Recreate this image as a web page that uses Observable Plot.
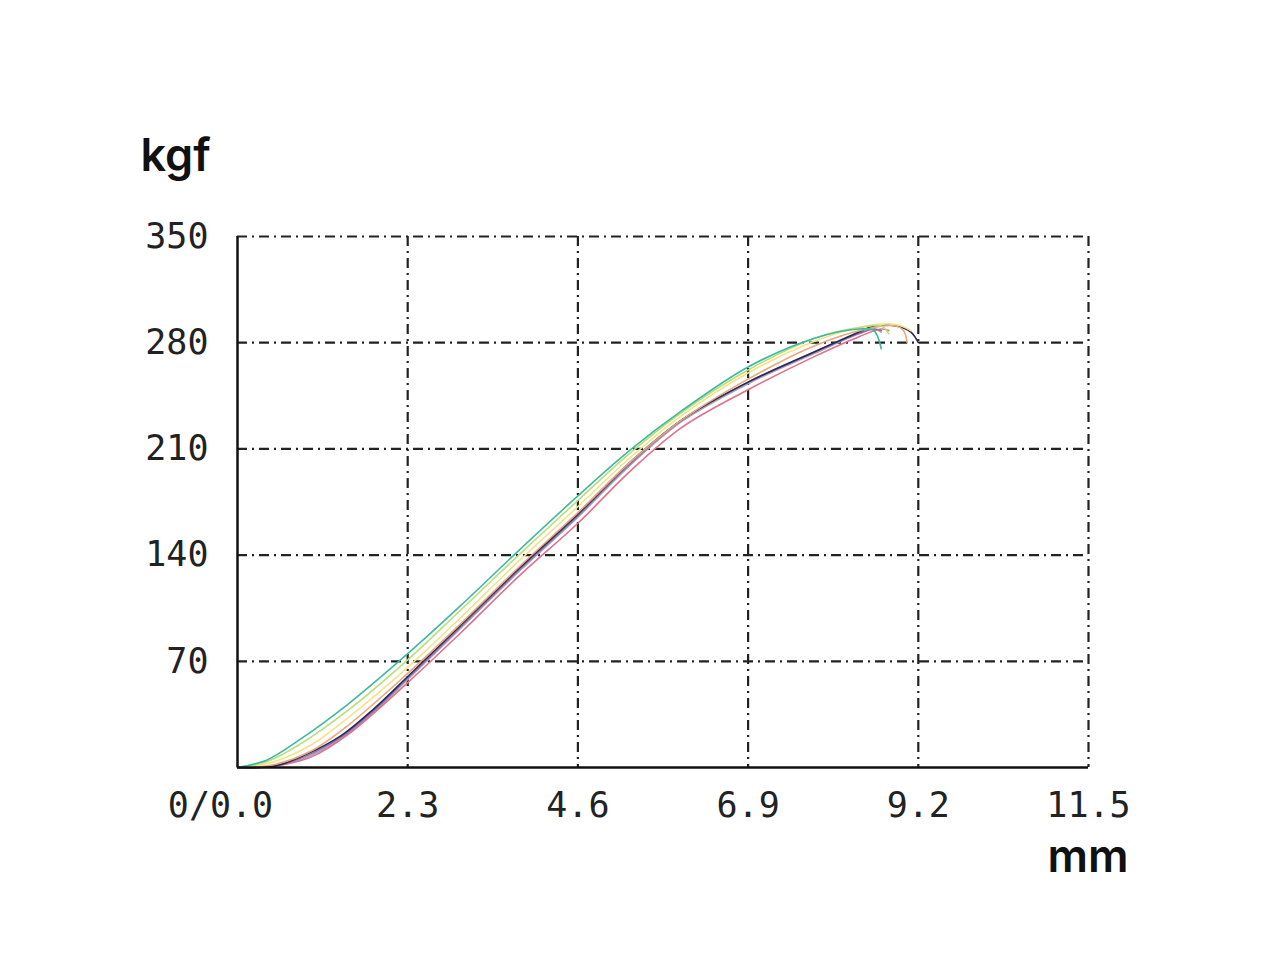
<!DOCTYPE html>
<html>
<head>
<meta charset="utf-8">
<script src="https://cdn.jsdelivr.net/npm/d3@7"></script>
<script src="https://cdn.jsdelivr.net/npm/@observablehq/plot@0.6"></script>
<style>
  html, body { margin: 0; padding: 0; background: #fff; }
  #chart svg { display: block; }
</style>
</head>
<body>
<div id="chart"></div>
<script>
// ---- data ----
const xTicks = [0, 2.3, 4.6, 6.9, 9.2, 11.5];
const xTickLabels = ["0/0.0", "2.3", "4.6", "6.9", "9.2", "11.5"];
const yTicks = [0, 70, 140, 210, 280, 350];
const yTickLabels = ["0", "70", "140", "210", "280", "350"];
const xLabel = "mm";
const yLabel = "kgf";

const seriesNames = ["gray", "pink", "purple", "dark", "orange", "yellow", "green", "teal"];
const seriesColors = ["#a8a0b8", "#e0708c", "#8c70b0", "#2a2850", "#e9a87c", "#f2e48a", "#b8e07a", "#3fb8a0"];

// [mm, kgf]
const gray   = [[0,0],[0.5,1],[0.9,6],[1.4,19],[1.85,37],[2.3,58],[3.0,91],[3.8,129],[4.6,165],[5.3,199],[6.0,228],[6.9,253],[7.8,273],[8.4,286],[8.6,289],[8.7,287]];
const pink   = [[0,0],[0.5,1],[1.0,7],[1.5,22],[2.3,56],[3.0,88],[3.8,126],[4.6,161],[5.3,195],[6.0,224],[6.9,249],[7.8,271],[8.4,284],[8.7,289],[8.8,288]];
const purple = [[0,0],[0.5,1],[0.9,7],[1.4,20],[1.85,38],[2.3,59],[3.0,92],[3.8,130],[4.6,166],[5.3,200],[6.0,229],[6.9,254],[7.8,274],[8.4,286],[8.6,289],[8.7,288]];
const dark   = [[0,0],[0.5,1],[0.9,8],[1.4,21],[1.85,39],[2.3,60],[3.0,93],[3.8,131],[4.6,167],[5.3,201],[6.0,229],[6.9,254],[7.8,274],[8.4,287],[8.6,291],[8.9,291],[9.1,287],[9.2,280]];
const orange = [[0,0],[0.5,2],[1.0,11],[1.5,28],[2.3,62],[3.0,94],[3.8,132],[4.6,168],[5.3,201],[6.0,229],[6.9,256],[7.8,278],[8.5,289],[8.9,291],[9.0,288],[9.05,280]];
const yellow = [[0,0],[0.5,4],[1.0,15],[1.5,33],[2.3,66],[3.0,98],[3.8,136],[4.6,172],[5.3,204],[6.0,232],[6.9,260],[7.8,281],[8.5,291],[8.9,292],[9.1,288]];
const green  = [[0,0],[0.4,4],[0.8,14],[1.5,38],[2.3,71],[3.0,103],[3.8,140],[4.6,176],[5.3,207],[6.0,234],[6.9,262],[7.8,283],[8.4,290],[8.7,291],[8.8,286]];
const teal   = [[0,0],[0.4,5],[0.8,17],[1.5,42],[2.3,75],[3.0,106],[3.8,143],[4.6,179],[5.3,209],[6.0,235],[6.9,264],[7.8,283],[8.4,289],[8.6,288],[8.7,276]];

const seriesData = [gray, pink, purple, dark, orange, yellow, green, teal];

// ---- build table ----
const rows = seriesData.flatMap((pts, i) =>
  pts.map(([mm, kgf]) => ({series: seriesNames[i], mm, kgf})));

const mono = "'DejaVu Sans Mono', monospace";
const sans = "Inter, 'Noto Sans', sans-serif";

const chart = Plot.plot({
  width: 1280,
  height: 955,
  marginLeft: 237,
  marginRight: 192,
  marginTop: 236,
  marginBottom: 188,
  x: {domain: [0, 11.5], axis: null},
  y: {domain: [0, 350], axis: null},
  color: {domain: seriesNames, range: seriesColors},
  marks: [
    // dash-dot grid
    Plot.ruleX(xTicks.slice(1), {stroke: "#222", strokeWidth: 2.2, strokeDasharray: "10,5,2,5"}),
    Plot.ruleY(yTicks.slice(1), {stroke: "#222", strokeWidth: 2.2, strokeDasharray: "10,5,2,5"}),
    // curves
    Plot.line(rows, {x: "mm", y: "kgf", z: "series", stroke: "series", strokeWidth: 1.6, curve: "catmull-rom"}),
    // axes lines
    Plot.ruleX([0], {stroke: "#111", strokeWidth: 2.5}),
    Plot.ruleY([0], {stroke: "#111", strokeWidth: 2.5}),
    // y tick labels
    Plot.text(yTicks.slice(1), {
      x: 0, y: d => d, text: (d, i) => yTickLabels[i + 1],
      textAnchor: "end", lineAnchor: "middle", dx: -29,
      fontFamily: mono, fontSize: 35, fill: "#222"
    }),
    // x tick labels
    Plot.text(xTicks.slice(1), {
      x: d => d, y: 0, text: (d, i) => xTickLabels[i + 1],
      textAnchor: "middle", lineAnchor: "middle", dy: 38,
      fontFamily: mono, fontSize: 35, fill: "#222"
    }),
    Plot.text(xTicks.slice(0, 1), {
      x: d => d, y: 0, text: () => xTickLabels[0],
      textAnchor: "middle", lineAnchor: "middle", dy: 38, dx: -17,
      fontFamily: mono, fontSize: 35, fill: "#222"
    }),
    // unit labels
    Plot.text([yLabel], {
      frameAnchor: "top-left", text: d => d, textAnchor: "start", lineAnchor: "bottom",
      dx: -97, dy: -66, fontFamily: sans, fontSize: 45, fontWeight: 600, fill: "#111"
    }),
    Plot.text([xLabel], {
      frameAnchor: "bottom-right", text: d => d, textAnchor: "end", lineAnchor: "bottom",
      dx: 40, dy: 104, fontFamily: sans, fontSize: 45, fontWeight: 600, fill: "#111"
    })
  ]
});
document.getElementById("chart").appendChild(chart);
</script>
</body>
</html>
